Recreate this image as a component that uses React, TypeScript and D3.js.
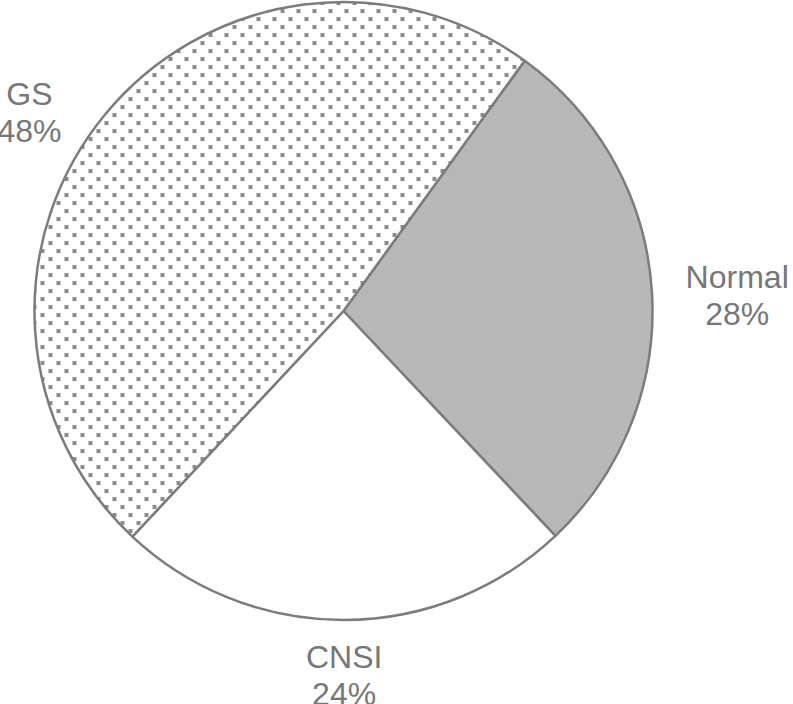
import * as d3 from 'd3';
import { useRef, useEffect } from 'react';

// slice data
const categories = ['Normal', 'CNSI', 'GS'];
const percents = [28, 24, 48];
const fills = ['url(#fine)', '#ffffff', 'url(#dots)'];

// where each label sits: angle nudge (deg) from the slice middle, and distance from centre
const labelNudge = [1.4, 0, -7.1];
const labelRadius = [394, 364, 372];

export default function App() {
  const ref = useRef<SVGSVGElement>(null);

  useEffect(() => {
    const width = 793;
    const height = 704;
    const cx = 343.5;
    const cy = 311;
    const radius = 309;

    const svg = d3.select(ref.current)
      .attr('width', width)
      .attr('height', height);
    svg.selectAll('*').remove();

    const defs = svg.append('defs');

    // staggered square dots for GS
    const dots = defs.append('pattern')
      .attr('id', 'dots')
      .attr('patternUnits', 'userSpaceOnUse')
      .attr('width', 16)
      .attr('height', 16);
    dots.append('rect').attr('width', 16).attr('height', 16).attr('fill', '#fff');
    [[11, 12], [3, 4]].forEach(([x, y]) => {
      dots.append('rect')
        .attr('x', x - 2)
        .attr('y', y - 2)
        .attr('width', 4)
        .attr('height', 4)
        .attr('fill', '#8c8c8c');
    });

    // fine grey screen for Normal
    const fine = defs.append('pattern')
      .attr('id', 'fine')
      .attr('patternUnits', 'userSpaceOnUse')
      .attr('width', 2)
      .attr('height', 2);
    fine.append('rect').attr('width', 2).attr('height', 2).attr('fill', '#c8c8c8');
    fine.append('rect').attr('width', 1).attr('height', 1).attr('fill', '#a4a4a4');
    fine.append('rect').attr('x', 1).attr('y', 1).attr('width', 1).attr('height', 1).attr('fill', '#aaaaaa');

    const data = categories.map((c, i) => ({ name: c, value: percents[i], i }));

    const start = (35.9 * Math.PI) / 180;
    const pie = d3.pie<any>()
      .value(d => d.value)
      .sort(null)
      .startAngle(start)
      .endAngle(start + 2 * Math.PI);

    const arc = d3.arc<any>()
      .innerRadius(0)
      .outerRadius(radius);

    const g = svg.append('g')
      .attr('transform', `translate(${cx},${cy})`);

    const arcs = pie(data);

    g.selectAll('path.slice')
      .data(arcs)
      .enter().append('path')
      .attr('class', 'slice')
      .attr('d', arc)
      .attr('fill', d => fills[d.data.i])
      .attr('stroke', '#7c7c7c')
      .attr('stroke-width', 2.5)
      .attr('stroke-linejoin', 'round');

    // labels
    const lab = g.selectAll('text.lab')
      .data(arcs)
      .enter().append('text')
      .attr('class', 'lab')
      .attr('text-anchor', 'middle')
      .attr('font-family', '"Liberation Sans", Arial, sans-serif')
      .attr('font-size', 32)
      .attr('fill', '#777')
      .attr('transform', d => {
        const a = (d.startAngle + d.endAngle) / 2 + (labelNudge[d.data.i] * Math.PI) / 180;
        const r = labelRadius[d.data.i];
        return `translate(${Math.sin(a) * r},${-Math.cos(a) * r})`;
      });

    lab.append('tspan')
      .attr('x', 0)
      .attr('y', -7)
      .text(d => d.data.name);
    lab.append('tspan')
      .attr('x', 0)
      .attr('y', 30)
      .text(d => d.data.value + '%');
  }, []);

  return (
    <svg ref={ref} style={{ position: 'absolute', left: 0, top: 0 }}></svg>
  );
}
